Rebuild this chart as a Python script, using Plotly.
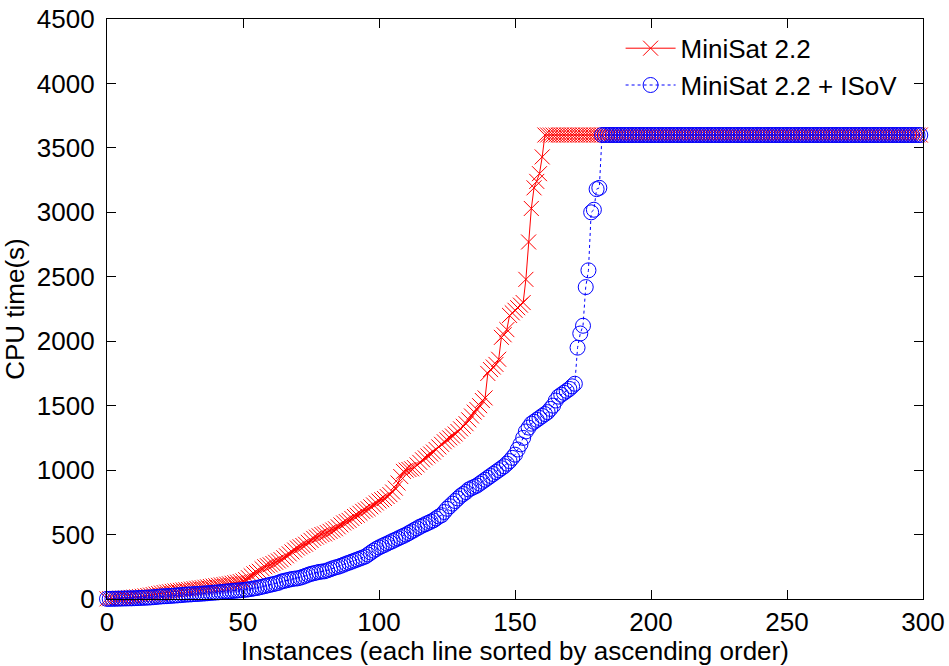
import plotly.graph_objects as go

TIMEOUT = 3600

instances = list(range(300))

# MiniSat 2.2 (sorted CPU times, s)
minisat_solved = [
    1, 2, 3, 4, 5, 6, 7, 8, 10, 12,
    14, 16, 18, 21, 24, 27, 30, 34, 38, 42,
    46, 50, 53, 56, 59, 62, 64, 67, 70, 72,
    74, 77, 80, 83, 86, 88, 91, 94, 97, 100,
    103, 106, 109, 112, 115, 118, 122, 126, 130, 135,
    140, 150, 165, 180, 195, 205, 215, 235, 250, 258,
    265, 275, 285, 295, 305, 320, 335, 350, 365, 380,
    395, 405, 415, 425, 440, 455, 470, 480, 490, 500,
    505, 515, 525, 535, 545, 560, 575, 590, 600, 610,
    625, 640, 650, 665, 680, 690, 700, 715, 730, 745,
    760, 770, 780, 795, 810, 830, 860, 900, 950, 990,
    1000, 1005, 1010, 1020, 1040, 1060, 1080, 1095, 1110, 1125,
    1140, 1160, 1180, 1200, 1220, 1235, 1250, 1265, 1280, 1300,
    1320, 1340, 1360, 1390, 1420, 1450, 1470, 1500, 1540, 1560,
    1750, 1780, 1800, 1820, 1860, 2030, 2050, 2090, 2200, 2220,
    2240, 2260, 2280, 2300, 2480, 2770, 3030, 3190, 3240, 3300,
    3430,
]
minisat = minisat_solved + [TIMEOUT] * (300 - len(minisat_solved))

# MiniSat 2.2 + ISoV (sorted CPU times, s)
isov_solved = [
    1, 1, 2, 2, 3, 3, 4, 4, 5, 5,
    6, 7, 8, 9, 10, 11, 12, 14, 16, 18,
    20, 21, 22, 24, 25, 27, 28, 30, 32, 34,
    35, 36, 38, 39, 40, 42, 43, 45, 47, 49,
    50, 52, 54, 56, 58, 60, 62, 64, 66, 68,
    70, 72, 75, 78, 82, 85, 90, 95, 100, 105,
    110, 115, 120, 125, 135, 140, 145, 150, 155, 158,
    160, 165, 172, 180, 188, 195, 200, 205, 210, 213,
    215, 222, 230, 238, 245, 250, 258, 266, 275, 282,
    290, 298, 306, 314, 322, 330, 345, 360, 375, 388,
    400, 410, 420, 430, 440, 450, 460, 470, 480, 490,
    500, 512, 524, 536, 548, 560, 570, 580, 590, 600,
    610, 625, 640, 650, 675, 700, 720, 740, 760, 780,
    800, 815, 830, 850, 860, 870, 880, 895, 910, 925,
    940, 955, 970, 985, 1000, 1015, 1030, 1050, 1070, 1095,
    1120, 1160, 1200, 1250, 1300, 1330, 1360, 1375, 1390, 1405,
    1420, 1435, 1450, 1475, 1500, 1540, 1570, 1585, 1600, 1615,
    1630, 1650, 1670, 1950, 2060, 2120, 2420, 2550, 3000, 3020,
    3180, 3190,
]
isov = isov_solved + [TIMEOUT] * (300 - len(isov_solved))

x_ticks = [0, 50, 100, 150, 200, 250, 300]
y_ticks = [0, 500, 1000, 1500, 2000, 2500, 3000, 3500, 4000, 4500]

FONT = "Liberation Sans, Arial, sans-serif"

fig = go.Figure()
fig.add_trace(go.Scatter(
    x=instances, y=minisat, name="MiniSat 2.2", mode="lines+markers",
    line=dict(color="#ff0000", width=1),
    marker=dict(symbol="x-thin", size=15, color="#ff0000",
                line=dict(color="#ff0000", width=1)),
    cliponaxis=False,
))
fig.add_trace(go.Scatter(
    x=instances, y=isov, name="MiniSat 2.2 + ISoV", mode="lines+markers",
    line=dict(color="#0000ff", width=1, dash="dot"),
    marker=dict(symbol="circle-open", size=15, color="#0000ff",
                line=dict(color="#0000ff", width=1)),
    cliponaxis=False,
))

axis_common = dict(
    showline=True, linecolor="black", linewidth=1.2, mirror="ticks",
    ticks="inside", ticklen=9, tickwidth=1, tickcolor="black",
    showgrid=False, zeroline=False,
    tickfont=dict(family=FONT, size=26, color="black"),
)

fig.update_xaxes(range=[0, 300], tickvals=x_ticks,
                 title=dict(text="Instances (each line sorted by ascending order)",
                            font=dict(family=FONT, size=26, color="black"), standoff=2),
                 automargin=False, **axis_common)
fig.update_yaxes(range=[0, 4500], tickvals=y_ticks, ticklabelstandoff=6,
                 title=dict(text="CPU time(s)",
                            font=dict(family=FONT, size=26, color="black"), standoff=4),
                 automargin=False, **axis_common)

fig.update_layout(
    width=949, height=666,
    margin=dict(l=107, r=26, t=19, b=67, pad=0),
    paper_bgcolor="white", plot_bgcolor="white",
    font=dict(family=FONT, size=26, color="black"),
    legend=dict(x=0.975, y=0.99, xanchor="right", yanchor="top",
                bgcolor="rgba(0,0,0,0)", font=dict(family=FONT, size=26, color="black"),
                itemwidth=50, tracegroupgap=0),
)

fig.write_html("out.html")
